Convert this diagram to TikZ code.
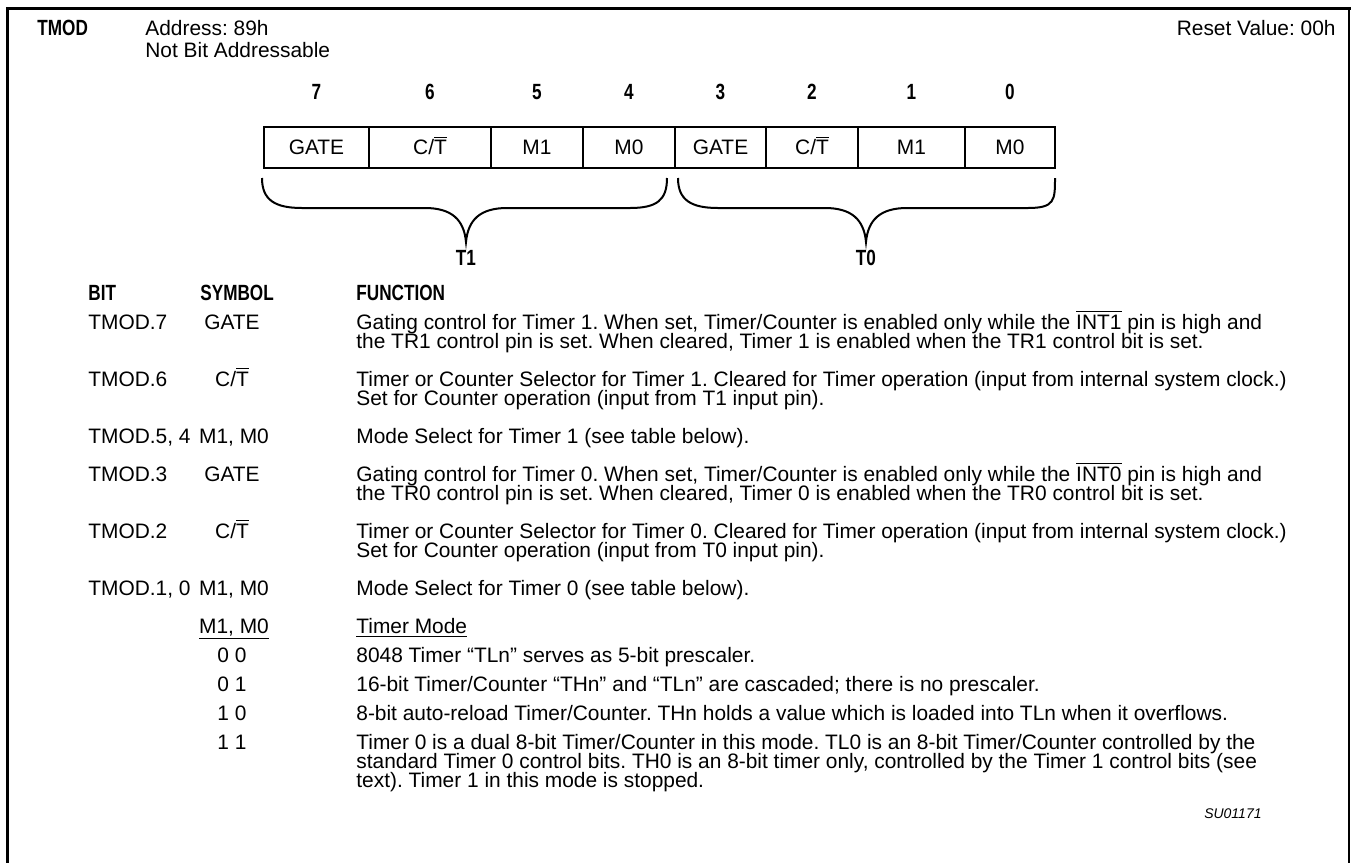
\documentclass[tikz,border=0pt]{standalone}
\usepackage{fontspec}
\setmainfont{Liberation Sans}
\newfontfamily\narrowfont{Liberation Sans}[FakeStretch=0.78]
\newcommand\myfs{\fontsize{10.45pt}{9.5pt}\selectfont}
\newcommand\numfs{\fontsize{11pt}{11pt}\narrowfont\bfseries}
\newcommand\ovl[1]{$\overline{\mbox{#1}}$}
\newcommand\ct{C/\ovl{T}}
\frenchspacing
\begin{document}
\begin{tikzpicture}[x=0.5pt,y=-0.5pt,
  t/.style={inner sep=0pt, anchor=base west, font=\myfs},
  tc/.style={inner sep=0pt, anchor=base, font=\myfs},
  tb/.style={inner sep=0pt, anchor=base west, font=\numfs},
  num/.style={inner sep=0pt, anchor=base, font=\numfs},
  cell/.style={draw, line width=0.7pt, inner sep=0pt, minimum height=20.5pt,
    text height=7.4pt, text depth=0pt, font=\myfs},
  brace/.style={line width=1pt},
  frame/.style={line width=1.5pt}]
\useasboundingbox (0,0) rectangle (1351,863);
% frame
\draw[frame] (7,863) -- (7,8) -- (1351,8);
\draw[line width=0.75pt] (1349,8) -- (1349,863);
% header
\node[tb] (tmod) at (37,35) {TMOD};
\node[t] (addr) at (145,35) {Address: 89h};
\node[t] (nba) at (145,57) {Not Bit Addressable};
\node[inner sep=0pt, anchor=base east, font=\myfs] (reset) at (1336,35) {Reset Value: 00h};
% cells
\foreach \c/\w/\l/\n/\b in {316.5/105/GATE/c7/7, 430/122/\ct/c6/6, 537/92/M1/c5/5, 629/92/M0/c4/4,
  720.5/91/GATE/c3/3, 812/92/\ct/c2/2, 911.5/107/M1/c1/1, 1010/90/M0/c0/0} {
  \node[cell, minimum width=\w*0.5pt] (\n) at (\c,147.5) {\l};
  \node[num] (b\b) at (\c,99) {\b};
}
% braces
\draw[brace] (262,178) .. controls (262,200) and (275,208) .. (302,208) -- (425,208)
  .. controls (452,208) and (464,220) .. (466,242)
  .. controls (468,220) and (480,208) .. (507,208) -- (630,208)
  .. controls (657,208) and (667,200) .. (667,178);
\draw[brace] (678,178) .. controls (678,200) and (691,208) .. (718,208) -- (825,208)
  .. controls (852,208) and (864,220) .. (866,242)
  .. controls (868,220) and (880,208) .. (907,208) -- (1028,208)
  .. controls (1055,208) and (1055,200) .. (1055,178);
\node[num] (t1) at (466,265) {T1};
\node[num] (t0) at (866,265) {T0};
% table header
\node[tb] (hbit) at (88,300) {BIT};
\node[tb] (hsym) at (200,300) {SYMBOL};
\node[tb] (hfun) at (356,300) {FUNCTION};
% rows
\node[t] (r7) at (88,329) {TMOD.7};
\node[tc] (s7) at (232,329) {GATE};
\node[t] (f7a) at (356,329) {Gating control for Timer 1. When set, Timer/Counter is enabled only while the \ovl{INT1} pin is high and};
\node[t] (f7b) at (356,348) {the TR1 control pin is set. When cleared, Timer 1 is enabled when the TR1 control bit is set.};
\node[t] (r6) at (88,386) {TMOD.6};
\node[tc] (s6) at (232,386) {\ct};
\node[t] (f6a) at (356,386) {Timer or Counter Selector for Timer 1. Cleared for Timer operation (input from internal system clock.)};
\node[t] (f6b) at (356,405) {Set for Counter operation (input from T1 input pin).};
\node[t] (r54) at (88,443) {TMOD.5, 4};
\node[tc] (s54) at (234,443) {M1, M0};
\node[t] (f54) at (356,443) {Mode Select for Timer 1 (see table below).};
\node[t] (r3) at (88,481) {TMOD.3};
\node[tc] (s3) at (232,481) {GATE};
\node[t] (f3a) at (356,481) {Gating control for Timer 0. When set, Timer/Counter is enabled only while the \ovl{INT0} pin is high and};
\node[t] (f3b) at (356,500) {the TR0 control pin is set. When cleared, Timer 0 is enabled when the TR0 control bit is set.};
\node[t] (r2) at (88,538) {TMOD.2};
\node[tc] (s2) at (232,538) {\ct};
\node[t] (f2a) at (356,538) {Timer or Counter Selector for Timer 0. Cleared for Timer operation (input from internal system clock.)};
\node[t] (f2b) at (356,557) {Set for Counter operation (input from T0 input pin).};
\node[t] (r10) at (88,595) {TMOD.1, 0};
\node[tc] (s10) at (234,595) {M1, M0};
\node[t] (f10) at (356,595) {Mode Select for Timer 0 (see table below).};
% mode table
\node[tc] (mh) at (234,633) {\underline{M1, M0}};
\node[t] (th) at (356,633) {\underline{Timer Mode}};
\node[tc] (m00) at (232,662) {0 0};
\node[t] (d00) at (356,662) {8048 Timer “TLn” serves as 5-bit prescaler.};
\node[tc] (m01) at (232,691) {0 1};
\node[t] (d01) at (356,691) {16-bit Timer/Counter “THn” and “TLn” are cascaded; there is no prescaler.};
\node[tc] (m10) at (232,720) {1 0};
\node[t] (d10) at (356,720) {8-bit auto-reload Timer/Counter. THn holds a value which is loaded into TLn when it overflows.};
\node[tc] (m11) at (232,749) {1 1};
\node[t] (d11a) at (356,749) {Timer 0 is a dual 8-bit Timer/Counter in this mode. TL0 is an 8-bit Timer/Counter controlled by the};
\node[t] (d11b) at (356,768) {standard Timer 0 control bits. TH0 is an 8-bit timer only, controlled by the Timer 1 control bits (see};
\node[t] (d11c) at (356,787) {text). Timer 1 in this mode is stopped.};
\node[inner sep=0pt, anchor=base east, font=\fontsize{7pt}{8pt}\selectfont\itshape] (su) at (1262,818) {SU01171};
\end{tikzpicture}
\end{document}
